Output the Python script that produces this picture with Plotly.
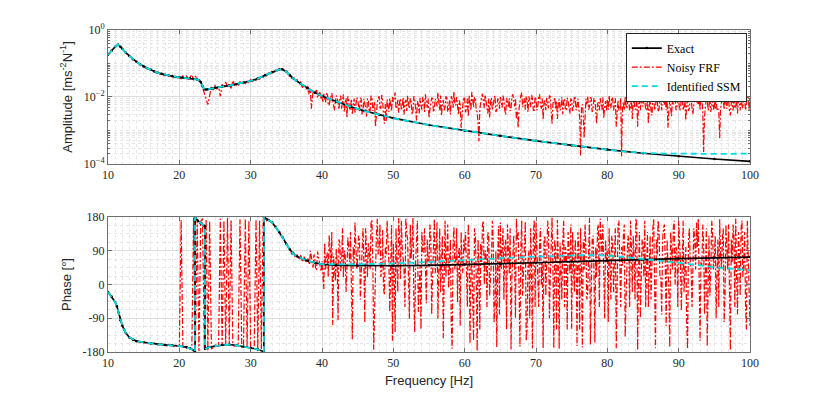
import numpy as np
import plotly.graph_objects as go
from plotly.subplots import make_subplots

# ---------------- data ----------------
exact_amp_freq = [10.0, 10.5, 11.0, 11.4, 11.75, 12.0, 12.5, 13.0, 13.5, 14.0,
                  14.5, 15.0, 15.5, 16.0, 16.5, 17.0, 17.5, 18.0, 18.5, 19.0,
                  19.5, 20.0, 20.5, 21.0, 21.5, 22.0, 22.5, 22.75, 23.0, 23.25,
                  23.5, 23.75, 24.0, 24.5, 25.0, 26.0, 27.0, 28.0, 29.0, 30.0,
                  31.0, 32.0, 33.0, 34.0, 34.4, 35.0, 35.5, 36.0, 37.0, 38.0,
                  39.0, 40.0, 42.0, 44.0, 46.0, 48.0, 50.0, 55.0, 60.0, 65.0,
                  70.0, 75.0, 80.0, 85.0, 90.0, 95.0, 100.0]
exact_amp = [0.182, 0.240, 0.316, 0.363, 0.316, 0.275, 0.209, 0.166, 0.135, 0.112,
             0.0955, 0.0813, 0.0724, 0.0646, 0.0575, 0.0525, 0.0490, 0.0457, 0.0437, 0.0417,
             0.0398, 0.0389, 0.0380, 0.0372, 0.0363, 0.0347, 0.0331, 0.0316, 0.0282, 0.0209,
             0.0170, 0.0166, 0.0170, 0.0180, 0.0191, 0.0204, 0.0219, 0.0240, 0.0269, 0.0302,
             0.0355, 0.0447, 0.0550, 0.0661, 0.0676, 0.0575, 0.0437, 0.0355, 0.0251, 0.0182,
             0.0135, 0.0107, 0.00724, 0.00513, 0.00380, 0.00295, 0.00234, 0.00145, 0.000977, 0.000692,
             0.000490, 0.000355, 0.000269, 0.000209, 0.000170, 0.000141, 0.000120]

ssm_amp_tail_freq = [82.0, 85.0, 88.0, 92.0, 96.0, 100.0]
ssm_amp_tail = [0.000240, 0.000214, 0.000204, 0.000200, 0.000200, 0.000204]

exact_phase_freq = [10.0, 10.5, 11.0, 11.25, 11.5, 11.75, 12.0, 12.25, 12.5, 13.0,
                    13.5, 14.0, 15.0, 16.0, 17.0, 18.0, 19.0, 20.0, 21.0, 21.5,
                    22.0, 22.2, 22.21, 22.6, 23.0, 23.4, 23.6, 23.61, 24.0, 25.0,
                    26.0, 27.0, 28.0, 29.0, 30.0, 31.0, 31.85, 31.86, 32.5, 33.0,
                    33.5, 34.0, 34.5, 35.0, 35.5, 36.0, 36.5, 37.0, 37.5, 38.0,
                    39.0, 40.0, 42.0, 45.0, 50.0, 55.0, 60.0, 65.0, 70.0, 75.0,
                    80.0, 85.0, 90.0, 95.0, 100.0]
exact_phase = [-20, -32, -47, -58, -75, -95, -109, -120, -129, -141,
               -147, -151, -154, -157, -159, -161, -162, -164, -167, -170,
               -175, -179.5, 179.5, 170, 163, 158, 155, -172, -168, -164,
               -161, -160, -162, -166, -169, -173, -179.5, 179.5, 172, 166,
               153, 140, 125, 108, 93, 82, 75, 71, 67, 63,
               58, 54, 51, 50, 50, 51, 53, 55, 58, 61,
               64, 67, 69, 71, 73]

ssm_phase_tail_freq = [40.0, 45.0, 50.0, 55.0, 60.0, 65.0, 68.0, 72.0, 76.0, 79.0,
                       82.0, 86.0, 90.0, 95.0, 100.0]
ssm_phase_tail = [54, 54, 56, 60, 64, 70, 73, 76, 78, 78,
                  74, 66, 58, 46, 38]

# noisy FRF: main grid every 0.25 Hz from 10 to 100 Hz
noisy_freq = np.round(np.linspace(10.0, 100.0, 361), 3)
noisy_amp = [
    0.180, 0.212, 0.238, 0.279, 0.312, 0.351, 0.352, 0.320, 0.270, 0.244, 0.205, 0.190, 0.162, 0.151, 0.131, 0.126, 0.109, 0.104, 0.093, 0.089,
    0.083, 0.074, 0.075, 0.066, 0.067, 0.058, 0.060, 0.052, 0.055, 0.048, 0.052, 0.045, 0.048, 0.042, 0.046, 0.041, 0.044, 0.038, 0.042, 0.037,
    0.041, 0.035, 0.043, 0.036, 0.044, 0.033, 0.040, 0.046, 0.032, 0.041, 0.037, 0.030, 0.029, 0.019, 0.015, 0.0093, 0.0059, 0.011, 0.021, 0.016,
    0.023, 0.017, 0.021, 0.0105, 0.024, 0.019, 0.028, 0.020, 0.025, 0.018, 0.031, 0.022, 0.026, 0.021, 0.029, 0.024, 0.030, 0.025, 0.032, 0.027,
    0.033, 0.029, 0.035, 0.031, 0.038, 0.034, 0.042, 0.039, 0.047, 0.043, 0.053, 0.049, 0.057, 0.054, 0.064, 0.060, 0.069, 0.064, 0.070, 0.058,
    0.060, 0.046, 0.047, 0.036, 0.040, 0.029, 0.033, 0.025, 0.028, 0.019, 0.024, 0.017, 0.021, 0.0138, 0.0045, 0.0150, 0.0125, 0.0160, 0.0105, 0.0130,
    0.0100, 0.0125, 0.0070, 0.0135, 0.0055, 0.0098, 0.0080, 0.0040, 0.0110, 0.0060, 0.0088, 0.0045, 0.0120, 0.0058, 0.0024, 0.0078, 0.0048, 0.0030, 0.0090, 0.0052,
    0.0082, 0.0036, 0.0085, 0.0042, 0.0070, 0.0026, 0.0078, 0.0040, 0.0095, 0.0050, 0.0013, 0.0068, 0.0105, 0.0045, 0.0080, 0.0016, 0.0019, 0.0060, 0.0090, 0.0038,
    0.0072, 0.0135, 0.0048, 0.0034, 0.0090, 0.0052, 0.0030, 0.0082, 0.0110, 0.0045, 0.0075, 0.0038, 0.0088, 0.0020, 0.0060, 0.0095, 0.0042, 0.0078, 0.0120, 0.0048,
    0.0024, 0.0065, 0.0090, 0.0044, 0.0075, 0.0135, 0.0040, 0.0028, 0.0082, 0.0050, 0.0098, 0.0046, 0.0030, 0.0088, 0.0145, 0.0056, 0.0040, 0.0080, 0.0012, 0.0058,
    0.0088, 0.0045, 0.0026, 0.0072, 0.0140, 0.0050, 0.0090, 0.0036, 0.00048, 0.0080, 0.0125, 0.0046, 0.0075, 0.0032, 0.0024, 0.0095, 0.0052, 0.0110, 0.0040, 0.0078,
    0.0100, 0.0048, 0.0080, 0.0030, 0.0070, 0.0092, 0.0044, 0.0120, 0.0052, 0.0022, 0.0012, 0.0075, 0.0135, 0.0060, 0.0042, 0.0082, 0.0105, 0.0050, 0.0090, 0.0040,
    0.0085, 0.0052, 0.0120, 0.0045, 0.0021, 0.0078, 0.0095, 0.0046, 0.0105, 0.0016, 0.0072, 0.0044, 0.0022, 0.0085, 0.0050, 0.0030, 0.0090, 0.0042, 0.0078, 0.0032,
    0.0080, 0.0046, 0.0095, 0.0052, 0.0040, 0.00018, 0.0060, 0.00060, 0.0088, 0.0105, 0.0050, 0.0090, 0.0045, 0.0082, 0.0016, 0.0070, 0.0092, 0.0042, 0.0024, 0.0076,
    0.0085, 0.0110, 0.0046, 0.0090, 0.0055, 0.0013, 0.0078, 0.0042, 0.00017, 0.0070, 0.0100, 0.0045, 0.0085, 0.0050, 0.0022, 0.0080, 0.0044, 0.0013, 0.0075, 0.0092,
    0.0052, 0.0088, 0.0044, 0.0016, 0.0078, 0.0028, 0.0095, 0.0050, 0.0082, 0.0042, 0.0090, 0.0145, 0.0058, 0.0040, 0.0012, 0.0080, 0.0027, 0.0060, 0.0092, 0.0048,
    0.0085, 0.0045, 0.0100, 0.0052, 0.0020, 0.0080, 0.0046, 0.0092, 0.0030, 0.0075, 0.0140, 0.0060, 0.0042, 0.0088, 0.00023, 0.0055, 0.0095, 0.0048, 0.0036, 0.0085,
    0.0078, 0.0092, 0.0045, 0.00060, 0.0070, 0.0085, 0.0105, 0.0044, 0.0080, 0.0028, 0.0072, 0.0090, 0.0048, 0.0032, 0.0082, 0.0110, 0.0046, 0.0088, 0.0060, 0.0095,
    0.0105]
noisy_phase = [
    -21, -25, -33, -38, -48, -56, -76, -93, -111, -119, -131, -135, -142, -143, -148, -148, -152, -151, -155, -153,
    -153, -156, -154, -158, -155, -159, -156, -160, -157, -161, -158, -163, -159, -164, -160, -163, -161, -166, -162, -165,
    -163, 172, -167, -165, -169, -166, -171, -174, 178, -176, 172, -178, 168, 176, -170, 174, -175, 170, -172, -166,
    -163, -160, -166, 175, -161, 170, -163, 178, -159, 172, -162, -165, -161, -164, 174, -167, -165, 176, -168, 171,
    -168, -171, -169, 174, -176, 170, -172, 176, 178, 170, 175, 167, 166, 158, 155, 145, 142, 130, 127, 115,
    110, 98, 96, 82, 86, 72, 80, 66, 78, 60, 74, 58, 70, 52, 75, 45, 68, 40, 72, 48,
    62, -12, 40, 85, 131, 50, -108, 30, 95, -95, 113, 65, 20, 78, 45, 100, 140, -146, 55, 90,
    70, 125, 30, 150, -102, 85, 110, 40, 172, -174, 60, 175, 95, 20, 145, -28, 80, 120, -73, 158,
    110, -127, 60, 177, 15, 95, 40, 177, 120, -91, 70, 177, -127, 100, -73, 50, 140, 85, 10, 120,
    60, 130, 20, 175, 80, -91, 150, 40, -143, 170, 95, -10, 120, -171, 153, 60, -47, 100, 140, 30,
    90, 20, 162, -158, 70, -150, 130, -178, 45, 110, 159, 0, 85, 140, -30, 60, 120, -60, -167, 155,
    165, 80, -40, 120, 160, 30, -173, 100, 60, 175, 140, -165, 170, 50, 168, -120, 90, 150, -170, 172,
    165, 40, 110, 0, -170, 130, 60, 150, 20, 178, -170, 90, 172, -172, 50, 120, -60, 80, 140, 30,
    -118, 60, 120, -164, 90, 150, -168, 40, 100, -20, 178, 70, 130, -155, 20, 160, 175, 80, 0, 120,
    90, 150, -40, 110, 60, -170, 160, 30, 100, 130, -140, 50, 120, 170, -20, 80, 176, -175, 140, 60,
    110, 170, 40, -60, 130, 90, 175, -170, 80, 140, 20, 120, 160, -110, 60, -168, 100, 150, 0, 90,
    170, 60, 130, -20, 100, -172, 150, 40, 80, 120, 165, 176, -150, 50, 110, 90, -165, 130, 30, 145,
    70, -90, 120, 174, 40, 150, -30, 100, 160, -176, 60, 130, 175, -80, 90, 150, 20, 140, -120, 80,
    -110]

# noisy FRF: extra samples in between (38.125 ... 99.875 Hz) where the record is dense
noisy_mid_freq = np.round(np.linspace(38.125, 99.875, 248), 3)
noisy_amp_mid = [
    0.0120, 0.0175, 0.0080, 0.0140, 0.0150, 0.0095, 0.0135, 0.0085,
    0.0068, 0.0088, 0.0120, 0.0060, 0.0082, 0.0130, 0.0052, 0.0075, 0.0098, 0.0042, 0.0110, 0.0070, 0.0036, 0.0092, 0.0105, 0.0040, 0.0088, 0.0062, 0.0034, 0.0096,
    0.0050, 0.0095, 0.0030, 0.0088, 0.0046, 0.0090, 0.0034, 0.0110, 0.0038, 0.0072, 0.0040, 0.0092, 0.0048, 0.0115, 0.0028, 0.0062, 0.0085, 0.0036, 0.0058, 0.0100,
    0.0098, 0.0045, 0.0082, 0.0070, 0.0040, 0.0095, 0.0068, 0.0038, 0.0060, 0.0092, 0.0030, 0.0105, 0.0042, 0.0075, 0.0032, 0.0058, 0.0100, 0.0036, 0.0070, 0.0090,
    0.0042, 0.0095, 0.0035, 0.0088, 0.0052, 0.0068, 0.0110, 0.0062, 0.0040, 0.0102, 0.0036, 0.0080, 0.0105, 0.0048, 0.0065, 0.0100, 0.0030, 0.0058, 0.0040, 0.0100,
    0.0035, 0.0090, 0.0110, 0.0040, 0.0085, 0.0100, 0.0040, 0.0016, 0.0045, 0.0098, 0.0080, 0.0115, 0.0040, 0.0090, 0.0070, 0.0042, 0.0095, 0.0036, 0.0090, 0.0045,
    0.0070, 0.0110, 0.0040, 0.0095, 0.0048, 0.0038, 0.0105, 0.0062, 0.0090, 0.0036, 0.0045, 0.0110, 0.0050, 0.0092, 0.0105, 0.0036, 0.0060, 0.0115, 0.0040, 0.0102,
    0.0040, 0.0095, 0.0058, 0.0090, 0.0070, 0.0040, 0.0060, 0.0110, 0.0038, 0.0065, 0.0098, 0.0078, 0.0060, 0.0040, 0.0100, 0.0072, 0.0040, 0.0095, 0.0050, 0.0090,
    0.0038, 0.0105, 0.0040, 0.0088, 0.0025, 0.0048, 0.0030, 0.0040, 0.0060, 0.0042, 0.0098, 0.0036, 0.0092, 0.0040, 0.0062, 0.0040, 0.0060, 0.0098, 0.0050, 0.0040,
    0.0042, 0.0060, 0.0098, 0.0040, 0.0092, 0.0052, 0.0040, 0.0092, 0.0045, 0.0040, 0.0055, 0.0090, 0.0040, 0.0095, 0.0060, 0.0042, 0.0095, 0.0058, 0.0040, 0.0060,
    0.0098, 0.0040, 0.0085, 0.0055, 0.0040, 0.0105, 0.0040, 0.0100, 0.0036, 0.0098, 0.0040, 0.0075, 0.0100, 0.0085, 0.0040, 0.0046, 0.0082, 0.0110, 0.0040, 0.0100,
    0.0040, 0.0090, 0.0040, 0.0085, 0.0060, 0.0038, 0.0105, 0.0045, 0.0060, 0.0100, 0.0060, 0.0100, 0.0088, 0.0040, 0.0026, 0.0092, 0.0040, 0.0105, 0.0070, 0.0042,
    0.0042, 0.0040, 0.0036, 0.0045, 0.0098, 0.0042, 0.0062, 0.0095, 0.0040, 0.0068, 0.0040, 0.0046, 0.0095, 0.0080, 0.0040, 0.0055, 0.0100, 0.0040, 0.0098, 0.0040]
noisy_phase_mid = [
    62, 90, 50, 80, 38, 88, 58, 35,
    30, 110, 70, 20, 95, 140, 75, 10, 60, 120, 35, 150, 90, -20, 125, 60, 15, 100, 165, 40,
    130, -40, 100, 60, 150, 20, 90, 165, 55, -60, 130, 80, 160, 40, -10, 100, 170, 60, 110, -150,
    30, 150, -20, 120, 170, 60, -60, 140, 20, 160, 110, -40, 60, 170, 20, -120, 90, 150, -50, 60,
    160, -80, 110, 30, 165, 60, -20, 130, 80, 20, 160, 50, -100, 110, 40, 150, 80, -110, 60, 120,
    140, -60, 110, 40, -100, 150, 20, 120, -120, 60, 170, 90, -60, 130, 20, 170, -100, 90, 60, -80,
    40, 150, 100, -120, 60, 150, 20, 130, -90, 120, 30, 100, -30, 130, -150, 60, -90, 40, 130, -60,
    100, -60, 150, 60, 120, -30, 170, -90, 110, 40, 120, -120, 60, 110, -40, 170, 100, -120, 60, 160,
    140, -20, 60, 140, -120, 40, 120, 160, -40, 140, -160, 120, 40, 100, 150, -60, 120, 160, -90, 60,
    -100, 60, 130, -20, 150, 30, 170, -60, 50, 160, 20, 130, -60, 100, 130, -40, 160, 40, -90, 120,
    20, -60, 140, 100, -40, 150, -80, 120, 170, 20, -80, 150, 60, 120, -20, 140, 40, 170, 100, -60,
    100, -70, 170, 60, -100, 120, 60, -60, 150, 40, 100, -80, 60, 160, -80, 150, 60, -30, 170, 40,
    130, 20, -60, 80, 120, -100, 160, 40, -40, 120, 160, -60, 20, 140, -30, 170, 60, -60, 170, -20]

x_ticks = [10, 20, 30, 40, 50, 60, 70, 80, 90, 100]
amp_tickvals = [1e-4, 1e-2, 1e0]
amp_ticktext = ["10<sup>\u22124</sup>", "10<sup>\u22122</sup>", "10<sup>0</sup>"]
phase_tickvals = [-180, -90, 0, 90, 180]
phase_ticktext = ["-180", "-90", "0", "90", "180"]

# merge the two noisy sample sets in frequency order
nf_all = np.concatenate([noisy_freq, noisy_mid_freq])
order = np.argsort(nf_all, kind="stable")
nf_all = nf_all[order]
na_all = np.array(noisy_amp + noisy_amp_mid)[order]
np_all = np.array(noisy_phase + noisy_phase_mid)[order]

# SSM series built from the read values
ssm_amp_freq = exact_amp_freq[:63] + ssm_amp_tail_freq
ssm_amp = exact_amp[:63] + ssm_amp_tail
ssm_phase_freq = exact_phase_freq[:51] + ssm_phase_tail_freq
ssm_phase = exact_phase[:51] + ssm_phase_tail

# ---------------- figure ----------------
RED = dict(color="#ff0000", width=1.2, dash="6px,2px,2px,2px")
BLK_LINE = dict(color="#000000", width=1.6)
CYAN = dict(color="#00dde3", width=1.8, dash="6px,4px")

fig = make_subplots(rows=2, cols=1)

fig.add_trace(go.Scatter(x=nf_all, y=na_all, mode="lines", line=RED,
                         name="Noisy FRF", legendrank=2), row=1, col=1)
fig.add_trace(go.Scatter(x=exact_amp_freq, y=exact_amp, mode="lines+markers", line=BLK_LINE,
                         marker=dict(size=2.5, color="#000000"), name="Exact", legendrank=1),
              row=1, col=1)
fig.add_trace(go.Scatter(x=ssm_amp_freq, y=ssm_amp, mode="lines", line=CYAN,
                         name="Identified SSM", legendrank=3), row=1, col=1)

fig.add_trace(go.Scatter(x=nf_all, y=np_all, mode="lines", line=RED,
                         showlegend=False), row=2, col=1)
fig.add_trace(go.Scatter(x=exact_phase_freq, y=exact_phase, mode="lines+markers", line=BLK_LINE,
                         marker=dict(size=2.5, color="#000000"), showlegend=False), row=2, col=1)
fig.add_trace(go.Scatter(x=ssm_phase_freq, y=ssm_phase, mode="lines", line=CYAN,
                         showlegend=False), row=2, col=1)

AX = "#6e6e6e"
TICKFONT = dict(family="Liberation Serif", size=12, color="#262626")
TITLEFONT = dict(family="Liberation Sans", size=13, color="#262626")
GRID = "#dcdcdc"
MINORGRID = "#e6e6e6"

xcommon = dict(range=[10, 100], tickvals=x_ticks, ticks="inside", ticklen=4,
               tickcolor=AX, showline=True, linecolor=AX, linewidth=1, mirror="ticks",
               showgrid=True, gridcolor=GRID, gridwidth=1, zeroline=False, automargin=False,
               minor=dict(dtick=1, tick0=10, showgrid=True, gridcolor=MINORGRID,
                          griddash="dot", ticks=""),
               tickfont=TICKFONT)

fig.update_xaxes(**xcommon)
fig.update_xaxes(row=2, col=1, title=dict(text="Frequency [Hz]", font=TITLEFONT, standoff=6))

minor_log = [k * 10.0 ** e for e in range(-4, 0) for k in range(1, 10)] + [1.0]
fig.update_yaxes(row=1, col=1, type="log", range=[-4, 0], domain=[0.5839, 1.0],
                 tickvals=amp_tickvals, ticktext=amp_ticktext, automargin=False,
                 ticks="inside", ticklen=4, tickcolor=AX, showline=True, linecolor=AX,
                 linewidth=1, mirror="ticks", showgrid=True, gridcolor=GRID, zeroline=False,
                 minor=dict(tickvals=minor_log, ticks="inside", ticklen=2, tickcolor=AX,
                            showgrid=True, gridcolor=MINORGRID, griddash="dot"),
                 tickfont=TICKFONT,
                 title=dict(text="Amplitude [ms<sup>-2</sup>N<sup>-1</sup>]", font=TITLEFONT,
                            standoff=8))
fig.update_yaxes(row=2, col=1, range=[-180, 180], domain=[0.0, 0.4193],
                 tickvals=phase_tickvals, ticktext=phase_ticktext, automargin=False,
                 ticks="inside", ticklen=4, tickcolor=AX, showline=True, linecolor=AX,
                 linewidth=1, mirror="ticks", showgrid=True, gridcolor=GRID, zeroline=False,
                 minor=dict(dtick=22.5, tick0=0, showgrid=True, gridcolor=MINORGRID,
                            griddash="dot", ticks=""),
                 tickfont=TICKFONT,
                 title=dict(text="Phase [°]", font=TITLEFONT, standoff=8))

# the page adds an 8px body margin, so the figure is drawn 8px smaller / shifted
fig.update_layout(
    width=822, height=388,
    margin=dict(l=100, r=80, t=22, b=44),
    paper_bgcolor="white", plot_bgcolor="white",
    showlegend=True,
    legend=dict(x=0.995, xanchor="right", y=0.992, yanchor="top",
                bgcolor="white", bordercolor="#262626", borderwidth=1,
                font=dict(family="Liberation Serif", size=12, color="#000000"),
                tracegroupgap=0, itemwidth=30),
)

fig.write_html("out.html")
